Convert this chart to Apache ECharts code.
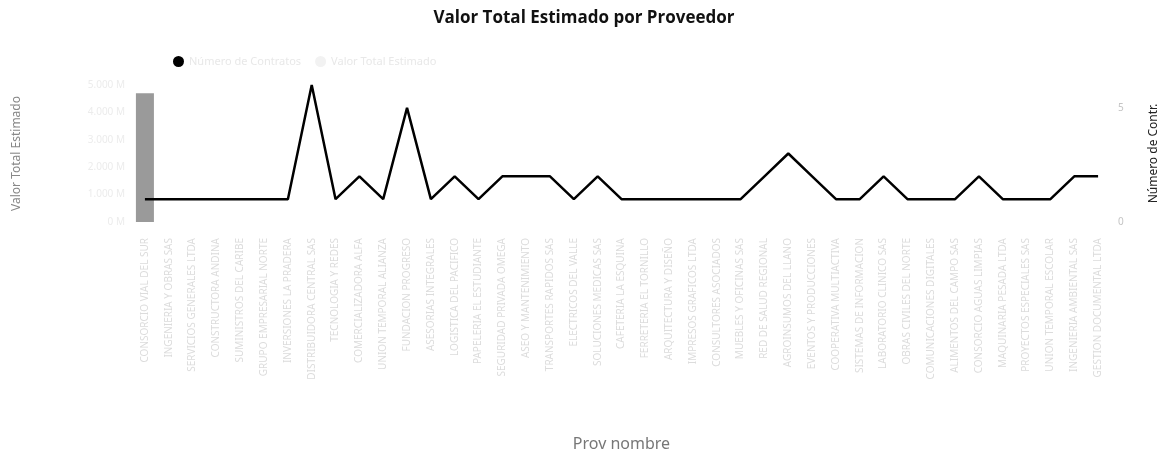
<!DOCTYPE html>
<html style="height: 100%">
<head>
<meta charset="utf-8">
<script src="https://cdn.jsdelivr.net/npm/echarts@6/dist/echarts.min.js"></script>
</head>
<body style="height: 100%; margin: 0; background: #fff">
<div id="container" style="width: 1168px; height: 453px"></div>
<script type="text/javascript">
// proveedores (eje x)
var proveedores = [
    'CONSORCIO VIAL DEL SUR', 'INGENIERIA Y OBRAS SAS', 'SERVICIOS GENERALES LTDA',
    'CONSTRUCTORA ANDINA', 'SUMINISTROS DEL CARIBE', 'GRUPO EMPRESARIAL NORTE',
    'INVERSIONES LA PRADERA', 'DISTRIBUIDORA CENTRAL SAS', 'TECNOLOGIA Y REDES',
    'COMERCIALIZADORA ALFA', 'UNION TEMPORAL ALIANZA', 'FUNDACION PROGRESO',
    'ASESORIAS INTEGRALES', 'LOGISTICA DEL PACIFICO', 'PAPELERIA EL ESTUDIANTE',
    'SEGURIDAD PRIVADA OMEGA', 'ASEO Y MANTENIMIENTO', 'TRANSPORTES RAPIDOS SAS',
    'ELECTRICOS DEL VALLE', 'SOLUCIONES MEDICAS SAS', 'CAFETERIA LA ESQUINA',
    'FERRETERIA EL TORNILLO', 'ARQUITECTURA Y DISEÑO', 'IMPRESOS GRAFICOS LTDA',
    'CONSULTORES ASOCIADOS', 'MUEBLES Y OFICINAS SAS', 'RED DE SALUD REGIONAL',
    'AGROINSUMOS DEL LLANO', 'EVENTOS Y PRODUCCIONES', 'COOPERATIVA MULTIACTIVA',
    'SISTEMAS DE INFORMACION', 'LABORATORIO CLINICO SAS', 'OBRAS CIVILES DEL NORTE',
    'COMUNICACIONES DIGITALES', 'ALIMENTOS DEL CAMPO SAS', 'CONSORCIO AGUAS LIMPIAS',
    'MAQUINARIA PESADA LTDA', 'PROYECTOS ESPECIALES SAS', 'UNION TEMPORAL ESCOLAR',
    'INGENIERIA AMBIENTAL SAS', 'GESTION DOCUMENTAL LTDA'
];

// Valor Total Estimado (eje izquierdo, barras)
var valorTotal = [
    4700000000, 0, 0, 0, 0, 0, 0, 0, 0, 0, 0, 0, 0, 0, 0, 0, 0, 0, 0, 0, 0,
    0, 0, 0, 0, 0, 0, 0, 0, 0, 0, 0, 0, 0, 0, 0, 0, 0, 0, 0, 0
];

// Número de Contratos (eje derecho, línea)
var numContratos = [
    1, 1, 1, 1, 1, 1, 1,
    6, 1, 2, 1, 5, 1, 2, 1,
    2, 2, 2, 1, 2,
    1, 1, 1, 1, 1, 1,
    2, 3, 2, 1, 1,
    2, 1, 1, 1,
    2, 1, 1, 1,
    2, 2
];

var chart = echarts.init(document.getElementById('container'));

var option = {
    animation: false,
    textStyle: { fontFamily: 'Noto Sans' },
    title: {
        text: 'Valor Total Estimado por Proveedor',
        left: 'center',
        top: 5,
        textStyle: { fontFamily: 'Open Sans', fontSize: 17, fontWeight: 'bold', color: '#111' }
    },
    legend: {
        left: 168,
        top: 51,
        itemWidth: 11,
        itemHeight: 11,
        itemGap: 14,
        icon: 'circle',
        textStyle: { color: '#e8e8e8', fontSize: 11 },
        data: [
            { name: 'Número de Contratos', itemStyle: { color: '#000' } },
            { name: 'Valor Total Estimado', itemStyle: { color: '#f2f2f2' } }
        ]
    },
    grid: {
        left: 133,
        right: 57,
        top: 85,
        bottom: 231
    },
    xAxis: {
        type: 'category',
        data: proveedores,
        name: 'Prov nombre',
        nameLocation: 'middle',
        nameGap: 214,
        nameTextStyle: { color: '#777', fontSize: 16 },
        axisLine: { show: false },
        axisTick: { show: false },
        axisLabel: {
            rotate: 90,
            interval: 0,
            fontSize: 10,
            margin: 16,
            color: '#dcdcdc'
        }
    },
    yAxis: [
        {
            type: 'value',
            name: 'Valor Total Estimado',
            nameLocation: 'middle',
            nameGap: 110,
            nameTextStyle: { color: '#888', fontSize: 12 },
            min: 0,
            max: 5000000000,
            interval: 1000000000,
            axisLine: { show: false },
            axisTick: { show: false },
            splitLine: { show: false },
            axisLabel: {
                color: '#ececec',
                fontSize: 10,
                formatter: function (v) { return (v / 1000000).toLocaleString('es-CO') + ' M'; }
            }
        },
        {
            type: 'value',
            name: 'Número de Contr.',
            nameLocation: 'middle',
            nameGap: 38,
            nameTextStyle: { color: '#222', fontSize: 12 },
            min: 0,
            max: 6,
            interval: 5,
            axisLine: { show: false },
            axisTick: { show: false },
            splitLine: { show: false },
            axisLabel: { color: '#c4c4c4', fontSize: 10, showMaxLabel: false }
        }
    ],
    series: [
        {
            name: 'Valor Total Estimado',
            type: 'bar',
            yAxisIndex: 0,
            barWidth: 18,
            itemStyle: { color: '#9a9a9a' },
            data: valorTotal
        },
        {
            name: 'Número de Contratos',
            type: 'line',
            yAxisIndex: 1,
            symbol: 'none',
            lineStyle: { color: '#000', width: 2.5 },
            itemStyle: { color: '#000' },
            data: numContratos
        }
    ]
};

chart.setOption(option);
</script>
</body>
</html>
